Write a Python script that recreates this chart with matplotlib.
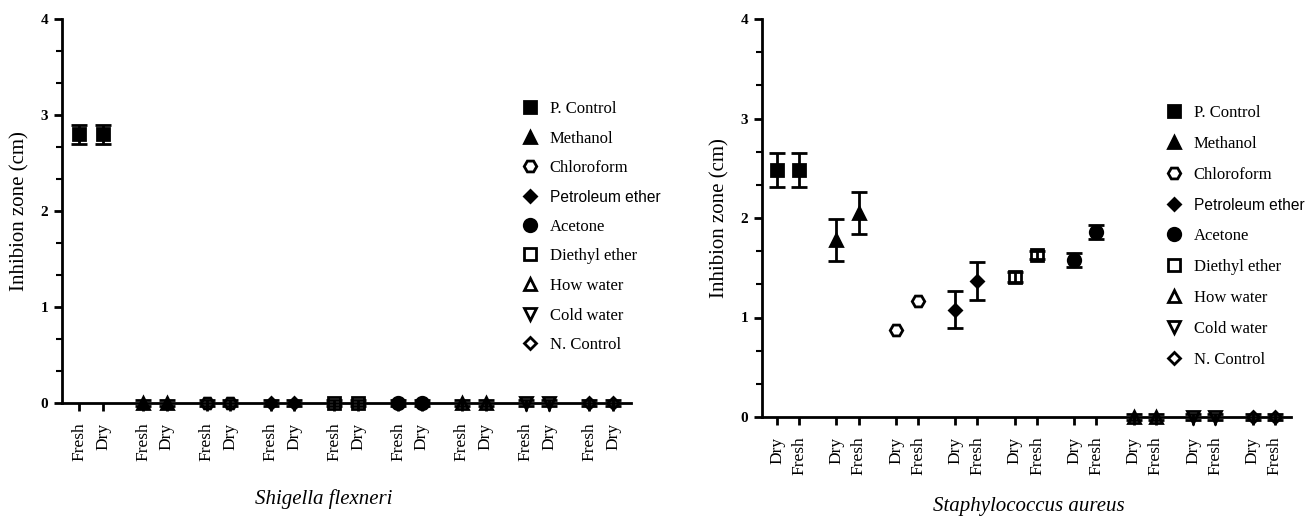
import matplotlib
matplotlib.use("Agg")
import matplotlib.pyplot as plt
from matplotlib.lines import Line2D
from matplotlib.ticker import MultipleLocator
import numpy as np

# plot order of the extract groups (same on both panels)
groups = ["P. Control", "Methanol", "Chloroform", "Petroleum ether", "Diethyl ether",
          "Acetone", "How water", "Cold water", "N. Control"]
legend_order = ["P. Control", "Methanol", "Chloroform", "Petroleum ether", "Acetone",
                "Diethyl ether", "How water", "Cold water", "N. Control"]

# Shigella flexneri: first = Fresh, second = Dry
shig_labels = ["Fresh", "Dry"]
shig_first = [2.80, 0, 0, 0, 0, 0, 0, 0, 0]
shig_first_err = [0.10, 0.03, 0.03, 0.03, 0.03, 0.03, 0.03, 0.03, 0.03]
shig_second = [2.80, 0, 0, 0, 0, 0, 0, 0, 0]
shig_second_err = [0.10, 0.03, 0.03, 0.03, 0.03, 0.03, 0.03, 0.03, 0.03]

# Staphylococcus aureus: first = Dry, second = Fresh
staph_labels = ["Dry", "Fresh"]
staph_first = [2.48, 1.78, 0.87, 1.08, 1.41, 1.58, 0, 0, 0]
staph_first_err = [0.17, 0.21, 0.0, 0.19, 0.05, 0.07, 0.03, 0.03, 0.03]
staph_second = [2.48, 2.05, 1.17, 1.37, 1.63, 1.86, 0, 0, 0]
staph_second_err = [0.17, 0.21, 0.0, 0.19, 0.04, 0.07, 0.03, 0.03, 0.03]

styles = {
    "P. Control": dict(marker="s", ms=9, filled=True),
    "Methanol": dict(marker="^", ms=9, filled=True),
    "Chloroform": dict(marker="H", ms=9, filled=False),
    "Petroleum ether": dict(marker="D", ms=6.5, filled=True),
    "Acetone": dict(marker="o", ms=9, filled=True),
    "Diethyl ether": dict(marker="s", ms=9, filled=False),
    "How water": dict(marker="^", ms=9, filled=False),
    "Cold water": dict(marker="v", ms=9, filled=False),
    "N. Control": dict(marker="D", ms=6.5, filled=False),
}

SERIF = "Liberation Serif"
SANS = "Liberation Sans"
SPACING = 2.7


def marker_kw(name):
    st = styles[name]
    return dict(marker=st["marker"], ms=st["ms"], mec="black", mew=2,
                mfc="black" if st["filled"] else "none", ls="none")


def panel(ax, first, first_err, second, second_err, labels, xlim, species, ylab_x, xlab_xy):
    base = np.arange(len(groups)) * SPACING
    for i, name in enumerate(groups):
        xs = [base[i], base[i] + 1]
        ys = [first[i], second[i]]
        es = [first_err[i], second_err[i]]
        for x, y, e in zip(xs, ys, es):
            if e > 0:
                ax.errorbar(x, y, yerr=e, fmt="none", ecolor="black", elinewidth=2,
                            capsize=6, capthick=2, zorder=4, clip_on=False)
        ax.plot(xs, ys, zorder=5, clip_on=False, **marker_kw(name))

    ax.set_xlim(*xlim)
    ax.set_ylim(0, 4)
    ax.set_xticks(np.concatenate([base, base + 1]))
    ax.set_xticklabels([labels[0]] * len(base) + [labels[1]] * len(base),
                       rotation=90, fontfamily=SERIF, fontsize=12.5)
    ax.yaxis.set_major_locator(MultipleLocator(1))
    ax.yaxis.set_minor_locator(MultipleLocator(1 / 3))
    ax.tick_params(axis="x", direction="out", length=6, width=2, pad=8)
    ax.tick_params(axis="y", which="major", direction="out", length=6, width=2, pad=4)
    ax.tick_params(axis="y", which="minor", direction="out", length=4, width=1.5)
    for t in ax.get_yticklabels():
        t.set_fontfamily(SERIF)
        t.set_fontweight("bold")
        t.set_fontsize(11)
    for s in ["top", "right"]:
        ax.spines[s].set_visible(False)
    for s in ["left", "bottom"]:
        ax.spines[s].set_linewidth(2)
    ax.set_ylabel("Inhibion zone (cm)", fontfamily=SERIF, fontsize=15)
    ax.yaxis.set_label_coords(ylab_x, 0.5)
    ax.text(xlab_xy[0], xlab_xy[1], species, transform=ax.transAxes, ha="center", va="center",
            fontfamily=SERIF, fontstyle="italic", fontsize=15)


fig = plt.figure(figsize=(13.07, 5.18), dpi=100)
ax1 = fig.add_axes([62 / 1307, 1 - 403 / 518, 569 / 1307, 384 / 518])
ax2 = fig.add_axes([762 / 1307, 1 - 417 / 518, 529 / 1307, 398 / 518])

last = (len(groups) - 1) * SPACING + 1
panel(ax1, shig_first, shig_first_err, shig_second, shig_second_err, shig_labels,
      (-0.735, last + 0.76), "Shigella flexneri", -0.058, (0.46, -0.25))
panel(ax2, staph_first, staph_first_err, staph_second, staph_second_err, staph_labels,
      (-0.68, last + 0.73), "Staphylococcus aureus", -0.062, (0.505, -0.224))

handles = [Line2D([], [], **marker_kw(n)) for n in legend_order]
for ax, anchor, sp in [(ax1, (522 / 1307, 1 - 101 / 518), 0.82),
                       (ax2, (1166 / 1307, 1 - 105 / 518), 0.9)]:
    leg = ax.legend(handles, legend_order, loc="upper left", bbox_to_anchor=anchor,
                    bbox_transform=fig.transFigure, frameon=False,
                    prop={"family": SERIF, "size": 12}, labelspacing=sp,
                    handlelength=0.9, handletextpad=0.75, borderaxespad=0, borderpad=0)
    pet = leg.get_texts()[3]
    pet.set_fontfamily(SANS)
    pet.set_fontsize(11.2)

fig.savefig("out.png", dpi=100)
